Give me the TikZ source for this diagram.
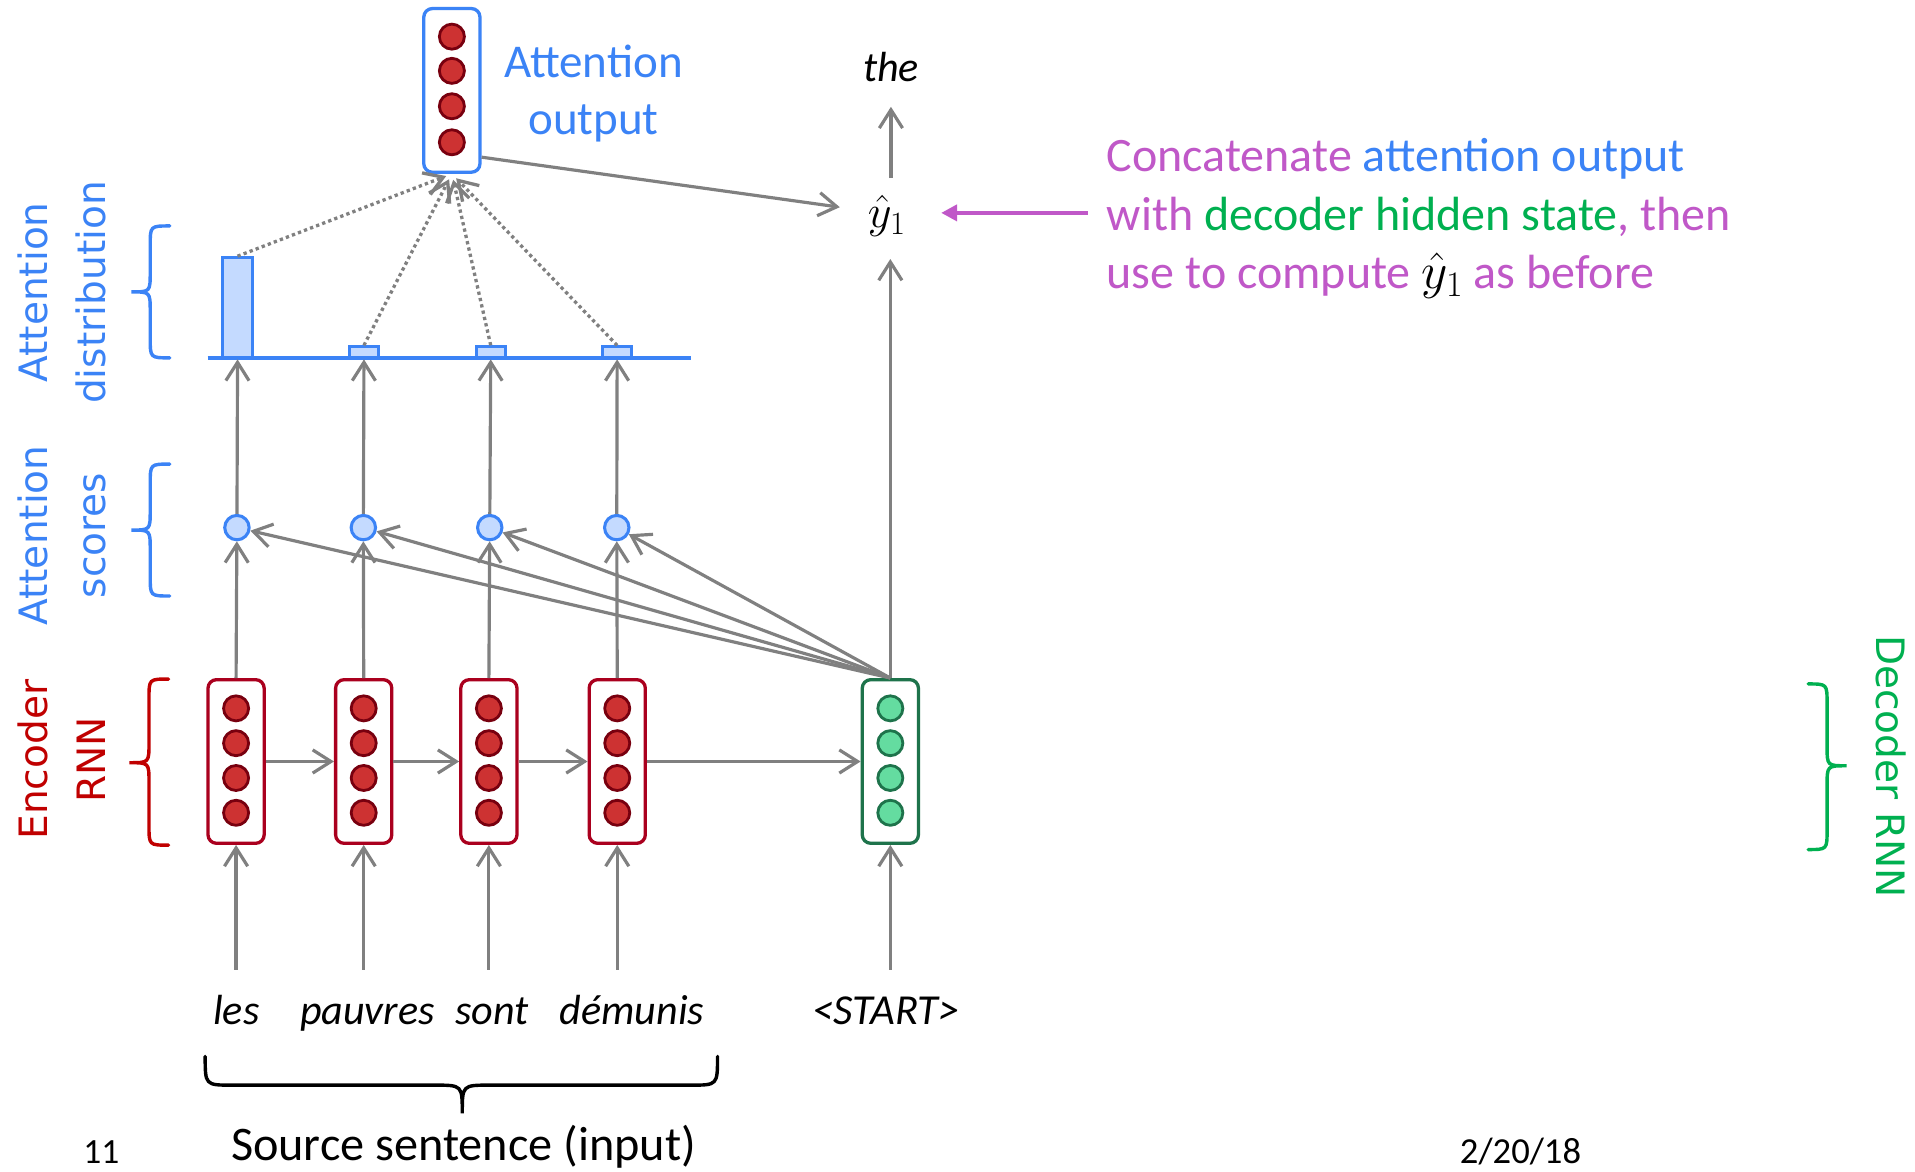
\RequirePackage{fix-cm}
\documentclass[tikz,border=0pt]{standalone}
\usepackage[no-math]{fontspec}
\setmainfont{Carlito}
\newfontfamily\dejavu{DejaVu Sans}
\usetikzlibrary{arrows.meta}
\definecolor{ablue}{RGB}{59,131,246}
\definecolor{lblue}{RGB}{196,218,255}
\definecolor{encred}{RGB}{170,0,30}
\definecolor{cellred}{RGB}{205,50,50}
\definecolor{celledge}{RGB}{120,0,15}
\definecolor{decgreen}{RGB}{30,115,75}
\definecolor{cellgreen}{RGB}{100,220,160}
\definecolor{tgreen}{RGB}{0,176,80}
\definecolor{tred}{RGB}{192,0,0}
\definecolor{magen}{RGB}{192,88,200}
\definecolor{agray}{RGB}{128,128,128}
\begin{document}
\begin{tikzpicture}[x=1pt,y=-1pt,
  arr/.style={draw=agray, line width=2.6pt, -{Straight Barb[length=15pt,width=19pt]}},
  dotarr/.style={arr, line width=2.7pt, dash pattern=on 2.7pt off 2.6pt},
  magarr/.style={draw=magen, line width=3.5pt, -{Triangle[length=13pt,width=13pt]}},
  vecbox/.style={draw=#1, line width=2.7pt, rounded corners=7pt, fill=white, minimum width=46pt, minimum height=134pt, inner sep=0pt},
  cellr/.style={circle, draw=celledge, fill=cellred, line width=2.3pt, minimum size=20.5pt, inner sep=0pt},
  cellg/.style={circle, draw=decgreen, fill=cellgreen, line width=2.3pt, minimum size=20.5pt, inner sep=0pt},
  score/.style={circle, draw=ablue, fill=lblue, line width=2.5pt, minimum size=20pt, inner sep=0pt},
  bar/.style={draw=ablue, fill=lblue, line width=2.5pt, minimum width=24pt, inner sep=0pt},
  word/.style={font=\fontsize{34.5}{40}\selectfont\itshape, inner sep=0pt, anchor=base},
  brace/.style={line width=2.8pt, line cap=round},
  side/.style={font=\dejavu\fontsize{32}{47.5}\selectfont, align=center, inner sep=0pt}
]
\fill[white] (0,0) rectangle (1568,959);
\useasboundingbox (0,0) rectangle (1568,959);

% attention output vector
\node[vecbox=ablue] (ao) at (370,74) {};
\foreach \k/\y in {1/30,2/58,3/87,4/116.5} \node[cellr] (ao\k) at (370,\y) {};
\node[anchor=north, align=center, inner sep=0pt, text=ablue, font=\fontsize{38.5}{47}\selectfont] (aolab) at (486,36.5) {Attention\\output};

% encoder
\foreach \n/\x in {1/193.3,2/297.8,3/400.3,4/505.4}{
  \node[vecbox=encred] (e\n) at (\x,623.5) {};
  \foreach \k/\y in {1/580,2/608.5,3/637,4/665.5} \node[cellr] (e\n-\k) at (\x,\y) {};
}
% decoder
\node[vecbox=decgreen] (dec) at (729,623.5) {};
\foreach \k/\y in {1/580,2/608.5,3/637,4/665.5} \node[cellg] (dec-\k) at (729,\y) {};

% scores
\foreach \n/\x in {1/194,2/297.5,3/401,4/505} \node[score] (s\n) at (\x,432) {};

% distribution
\draw[ablue, line width=3pt] (170,293) -- (566,293);
\node[bar, minimum height=82pt] (b1) at (194.5,252) {};
\node[bar, minimum height=9pt] (b2) at (298,288.5) {};
\node[bar, minimum height=9pt] (b3) at (401.8,288.5) {};
\node[bar, minimum height=9pt] (b4) at (505.3,288.5) {};

% words
\node[word] (w1) at (193.5,838.5) {les};
\node[word] (w2) at (300.8,838.5) {pauvres};
\node[word] (w3) at (402.7,838.5) {sont};
\node[word] (w4) at (517.5,838.5) {démunis};
\node[word, font=\fontsize{35}{40}\selectfont\itshape] (w5) at (725.5,838.5) {<START>};
\coordinate (i1) at (193.3,794);
\coordinate (i2) at (297.8,794);
\coordinate (i3) at (400.3,794);
\coordinate (i4) at (505.4,794);
\coordinate (i5) at (729,794);

% outputs
\node[inner sep=0pt, font=\fontsize{38}{40}\selectfont] (yh) at (726,177) {$\hat{y}_1$};
\node[word] (the) at (729.5,67) {the};

% arrows
\foreach \n in {1,2,3,4}{
  \draw[arr] (i\n) -- (e\n.south);
  \draw[arr] (e\n.north) -- (s\n);
  \draw[arr] (s\n) -- (b\n.south);
  \draw[dotarr, shorten >=5pt] (b\n.north) -- (ao.south);
}
\draw[arr] (i5) -- (dec.south);
\draw[arr] (e1.east) -- (e2.west);
\draw[arr] (e2.east) -- (e3.west);
\draw[arr] (e3.east) -- (e4.west);
\draw[arr] (e4.east) -- (dec.west);
\foreach \n in {1,2,3,4} \draw[arr] (dec.north) -- (s\n);
\draw[arr, shorten >=18pt] (dec.north) -- (yh.south -| dec.north);
\draw[arr, shorten <=14pt, shorten >=20pt] (yh.north -| the.south) -- (the.south);
\draw[arr, shorten >=23pt] (ao.-66) -- (yh.165);
\coordinate (mtail) at (890.7,174.3);
\draw[magarr, shorten >=29pt] (mtail) -- (mtail -| yh.east);

% explanation
\node[anchor=north west, align=left, inner sep=0pt, font=\fontsize{39.3}{48}\selectfont] (txt) at (906,113)
 {\textcolor{magen}{Concatenate} \textcolor{ablue}{attention output}\\
  \textcolor{magen}{with} \textcolor{tgreen}{decoder hidden state}\textcolor{magen}{, then}\\
  \textcolor{magen}{use to compute} {\fontsize{42}{48}\selectfont$\hat{y}_1$} \textcolor{magen}{as before}};

% side labels
\node[side, text=ablue, rotate=90] (ldist) at (50.4,239.5) {Attention\\distribution};
\node[side, text=ablue, rotate=90] (lscore) at (50.4,438.5) {Attention\\scores};
\node[side, text=tred, rotate=90] (lenc) at (50.4,622) {Encoder\\RNN};
\node[side, text=tgreen, rotate=-90] (ldec) at (1548,627.6) {Decoder RNN};

% braces
\draw[brace, ablue] (139,185) .. controls (123,185) .. (123,201) -- (123,223) .. controls (123,239) .. (107.5,239) .. controls (123,239) .. (123,255) -- (123,277) .. controls (123,293) .. (139,293);
\draw[brace, ablue] (139,380) .. controls (123,380) .. (123,396) -- (123,418) .. controls (123,434) .. (107.5,434) .. controls (123,434) .. (123,450) -- (123,472) .. controls (123,488) .. (139,488);
\draw[brace, tred] (138,556) .. controls (122,556) .. (122,572) -- (122,608.5) .. controls (122,624.5) .. (106,624.5) .. controls (122,624.5) .. (122,640.5) -- (122,676) .. controls (122,692) .. (138,692);
\draw[brace, tgreen] (1480.5,560) .. controls (1496,560) .. (1496,576) -- (1496,611) .. controls (1496,627) .. (1512,627) .. controls (1496,627) .. (1496,643) -- (1496,679.6) .. controls (1496,695.6) .. (1480.5,695.6);
\draw[brace, black] (168,865) .. controls (168,888.5) .. (190,888.5) -- (356,888.5) .. controls (378.5,888.5) .. (378.5,911.6) .. controls (378.5,888.5) .. (401,888.5) -- (565.5,888.5) .. controls (587.5,888.5) .. (587.5,865);

% footer
\node[anchor=base, inner sep=0pt, font=\fontsize{39.5}{46}\selectfont] (src) at (379.5,950) {Source sentence (input)};
\node[anchor=base, inner sep=0pt, font=\fontsize{29}{35}\selectfont] (pg) at (83,953) {11};
\node[anchor=base, inner sep=0pt, font=\fontsize{30}{35}\selectfont] (date) at (1245,953) {2/20/18};
\end{tikzpicture}
\end{document}
